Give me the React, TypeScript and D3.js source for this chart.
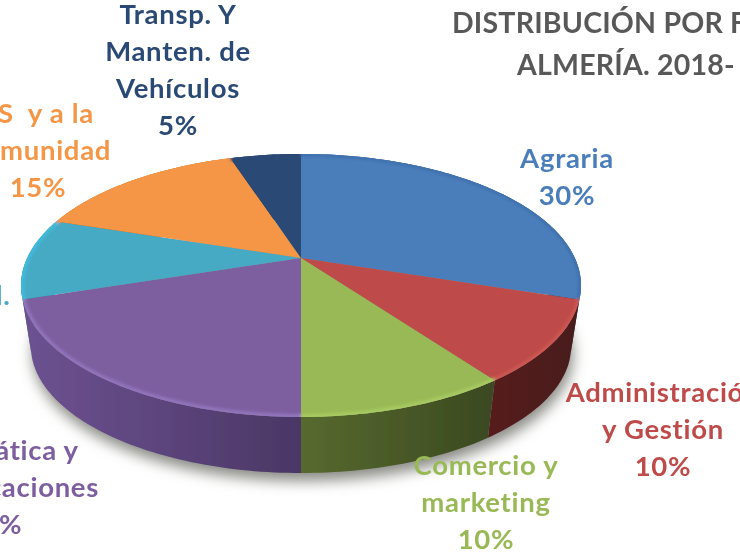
import * as d3 from 'd3'

// Slices, clockwise from 12 o'clock
const categories = ['Agraria', 'Administración', 'Comercio', 'Informática', 'Hostelería', 'SS', 'Transporte']
const values = [30, 10, 10, 20, 10, 15, 5]
const topColors = ['#4a7ebb', '#be4b48', '#98b954', '#7d5fa0', '#46aac5', '#f59647', '#2a4a75']
const rimColors = ['#3f72ae', '#cc5652', '#a8ca62', '#9274bc', '#3fbcdc', '#f59647', '#2a4a75']
const wallAtStart = ['#24456f', '#4a1c1b', '#3c4a20', '#4a3765', '#2b7a90', '#a8602a', '#1b3350']
const wallAtEnd = ['#24456f', '#571f1e', '#57692f', '#6c5190', '#2b7a90', '#a8602a', '#1b3350']
const wallOrder = [6, 5, 4, 0, 1, 2, 3]

// Label lines are drawn as they show in the picture, some run off the page
const labelLines = [
  ['Agraria', '30%'],
  ['Administración', 'y Gestión', '10%'],
  ['Comercio y', 'marketing', '10%'],
  ['Informática y', 'Comunicaciones', '20%'],
  ['l.'],
  ['SS  y a la', 'Comunidad', '15%'],
  ['Transp. Y', 'Manten. de', 'Vehículos', '5%'],
]
const labelColors = ['#4a7ebb', '#be4b48', '#98b954', '#7d5fa0', '#46aac5', '#f59647', '#2a4a75']
const labelAnchors = [
  [567, 168],
  [663, 402],
  [486, 475],
  [-6, 460],
  [3, 305],
  [38, 123],
  [178, 24],
]
const titleLines = ['DISTRIBUCIÓN POR F', 'ALMERÍA. 2018-']

// Perspective view of the disc
const width = 740
const height = 560
const cx = 301
const cy = 258
const tilt = 0.209
const radiusX = 273.8
const radiusY = 125.75
const floorScale = 0.965
const floorDrop = 61.6
const lineHeight = 37

const project = (angle: number, floor = false): [number, number] => {
  const u = Math.sin(angle)
  const v = -Math.cos(angle)
  const w = 1 - tilt * v
  const s = floor ? floorScale : 1
  return [cx + (s * radiusX * u) / w, cy + (floor ? floorDrop : 0) + (s * radiusY * v) / w]
}

const rimAngles = (a0: number, a1: number) => {
  const n = Math.max(2, Math.ceil((a1 - a0) / 0.02))
  return d3.range(n + 1).map(i => a0 + ((a1 - a0) * i) / n)
}

const line = d3.line()
const slices = d3.pie<number>().sort(null)(values)
const fullRim = rimAngles(0, Math.PI * 2)

export default function App() {
  return (
    <svg
      width={width}
      height={height}
      style={{ position: 'absolute', left: 0, top: 0, background: '#fff' }}
      fontFamily="Lato, 'Open Sans', sans-serif"
      fontWeight={700}
    >
      <defs>
        <filter id="shadow" x="-20%" y="-20%" width="140%" height="140%">
          <feGaussianBlur stdDeviation="7" />
        </filter>
        <filter id="bevel" x="-5%" y="-5%" width="110%" height="110%">
          <feGaussianBlur stdDeviation="1.8" />
        </filter>
        <filter id="soft" x="-5%" y="-5%" width="110%" height="110%">
          <feGaussianBlur stdDeviation="0.7" />
        </filter>
        <filter id="softText" x="-5%" y="-20%" width="110%" height="140%">
          <feGaussianBlur stdDeviation="0.45" />
        </filter>
        <clipPath id="disc">
          <path d={line(fullRim.map(a => project(a))) + 'Z'} />
        </clipPath>
        {slices.map((s, i) => {
          const [x0] = project(s.startAngle, true)
          const [x1] = project(s.endAngle, true)
          return (
            <linearGradient key={i} id={`wall-${i}`} gradientUnits="userSpaceOnUse" x1={x0} x2={x1} y1={0} y2={0}>
              <stop offset="0" stopColor={wallAtStart[i]} />
              <stop offset="1" stopColor={wallAtEnd[i]} />
            </linearGradient>
          )
        })}
      </defs>

      {/* drop shadow under the floor of the disc */}
      <path
        d={line(fullRim.map(a => project(a, true))) + 'Z'}
        transform="translate(2,8)"
        fill="#8a8a85"
        filter="url(#shadow)"
      />

      <g filter="url(#soft)">
        {/* side walls, the top covers whatever faces backwards */}
        {wallOrder.map(i => {
          const angles = rimAngles(slices[i].startAngle, slices[i].endAngle)
          const pts = [
            ...angles.map(a => project(a)),
            ...angles.slice().reverse().map(a => project(a, true)),
          ]
          return <path key={categories[i]} d={line(pts) + 'Z'} fill={`url(#wall-${i})`} />
        })}

        {/* top face */}
        {slices.map((s, i) => {
          const pts = [[cx, cy] as [number, number], ...rimAngles(s.startAngle, s.endAngle).map(a => project(a))]
          return <path key={categories[i]} d={line(pts) + 'Z'} fill={topColors[i]} />
        })}

        {/* bevel along the rim */}
        <g clipPath="url(#disc)" filter="url(#bevel)">
          {slices.map((s, i) => (
            <path
              key={categories[i]}
              d={line(rimAngles(s.startAngle, s.endAngle).map(a => project(a))) ?? ''}
              fill="none"
              stroke={rimColors[i]}
              strokeWidth={6}
            />
          ))}
        </g>
      </g>

      <g filter="url(#softText)" fontSize={27.5} letterSpacing={0.7} textAnchor="middle">
        {labelLines.map((lines, i) => (
          <text key={i} x={labelAnchors[i][0]} y={labelAnchors[i][1]} fill={labelColors[i]}>
            {lines.map((t, j) => (
              <tspan key={j} x={labelAnchors[i][0]} y={labelAnchors[i][1] + j * lineHeight} xmlSpace="preserve">
                {t}
              </tspan>
            ))}
          </text>
        ))}
      </g>

      <g filter="url(#softText)" fontSize={28.5} letterSpacing={0.2} fill="#595959">
        <text x={452} y={33}>{titleLines[0]}</text>
        <text x={517} y={75}>{titleLines[1]}</text>
      </g>
    </svg>
  )
}
